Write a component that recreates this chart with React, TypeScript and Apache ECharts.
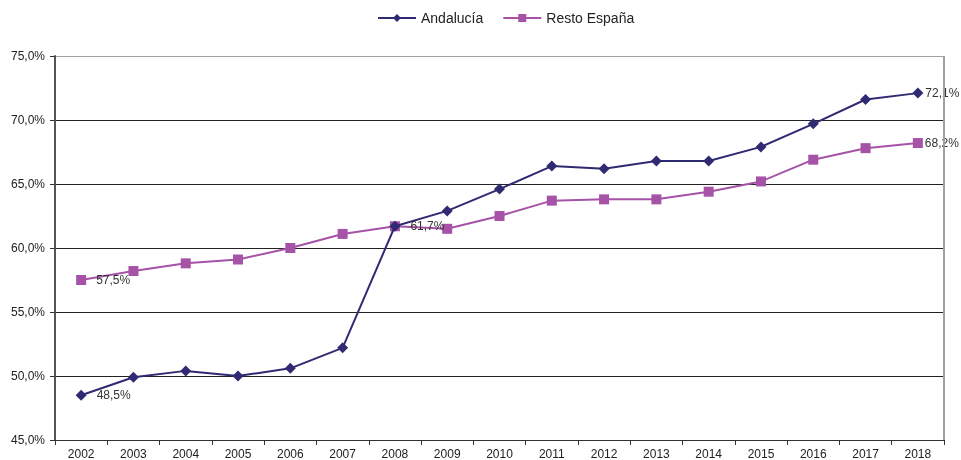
import React, { useEffect, useRef } from "react";
import * as echarts from "echarts";

const years = ["2002","2003","2004","2005","2006","2007","2008","2009","2010","2011","2012","2013","2014","2015","2016","2017","2018"];
const andalucia = [48.5, 49.9, 50.4, 50.0, 50.6, 52.2, 61.7, 62.9, 64.6, 66.4, 66.2, 66.8, 66.8, 67.9, 69.7, 71.6, 72.1];
const resto = [57.5, 58.2, 58.8, 59.1, 60.0, 61.1, 61.7, 61.5, 62.5, 63.7, 63.8, 63.8, 64.4, 65.2, 66.9, 67.8, 68.2];
const andaluciaLabelIdx = [0, 6, 16];
const restoLabelIdx = [0, 16];

const fmt = (v: number) => v.toFixed(1).replace(".", ",") + "%";

export default function App() {
  const ref = useRef<HTMLDivElement>(null);
  useEffect(() => {
    const chart = echarts.init(ref.current!, undefined, { renderer: "svg" });
    const font = "Liberation Sans, Arial, sans-serif";
    const labelCfg = (idxs: number[]) => ({
      show: true,
      position: "right" as const,
      distance: 10,
      color: "#333",
      fontSize: 12,
      fontFamily: font,
      formatter: (p: any) => (idxs.includes(p.dataIndex) ? fmt(p.value) : ""),
    });
    const toData = (arr: number[]) =>
      arr.map((v, i) => (i === arr.length - 1 ? { value: v, label: { distance: 2 } } : v));
    chart.setOption({
      animation: false,
      textStyle: { fontFamily: font },
      legend: {
        top: 6,
        left: 372,
        itemWidth: 38,
        itemHeight: 10,
        itemGap: 19,
        textStyle: { fontSize: 14, color: "#222", fontFamily: font },
        data: ["Andalucía", "Resto España"],
      },
      grid: { left: 55, right: 17, top: 56, bottom: 20, containLabel: false },
      xAxis: {
        type: "category",
        data: years,
        boundaryGap: true,
        axisLine: { lineStyle: { color: "#333", width: 1 } },
        axisTick: { show: true, alignWithLabel: false, length: 5, lineStyle: { color: "#333" } },
        axisLabel: { color: "#222", fontSize: 12, fontFamily: font, margin: 8 },
      },
      yAxis: {
        type: "value",
        min: 45,
        max: 75,
        interval: 5,
        axisLine: { show: true, lineStyle: { color: "#555", width: 2 } },
        axisTick: { show: true, length: 5, lineStyle: { color: "#333" } },
        axisLabel: { color: "#222", fontSize: 12, fontFamily: font, margin: 10, formatter: (v: number) => fmt(v) },
        splitLine: {
          show: true,
          lineStyle: { color: ["#222", "#222", "#222", "#222", "#222", "#222", "#a0a0a0"], width: 1 },
        },
      },
      series: [
        {
          name: "Resto España",
          type: "line",
          data: toData(resto),
          symbol: "rect",
          symbolSize: 10,
          itemStyle: { color: "#A552A7" },
          lineStyle: { color: "#A552A7", width: 2 },
          label: labelCfg(restoLabelIdx),
          z: 2,
        },
        {
          name: "Andalucía",
          type: "line",
          data: toData(andalucia),
          symbol: "diamond",
          symbolSize: 11,
          itemStyle: { color: "#302A72" },
          lineStyle: { color: "#302A72", width: 2 },
          label: labelCfg(andaluciaLabelIdx),
          z: 3,
        },
        {
          name: "frame",
          type: "line",
          data: [],
          markLine: {
            silent: true,
            symbol: "none",
            label: { show: false },
            lineStyle: { color: "#a0a0a0", width: 2, type: "solid" },
            data: [[{ x: 944, y: 56 }, { x: 944, y: 440 }]],
          },
        },
      ],
    });
    return () => chart.dispose();
  }, []);
  return <div ref={ref} style={{ position: "fixed", left: 0, top: 0, width: 961, height: 460 }} />;
}
